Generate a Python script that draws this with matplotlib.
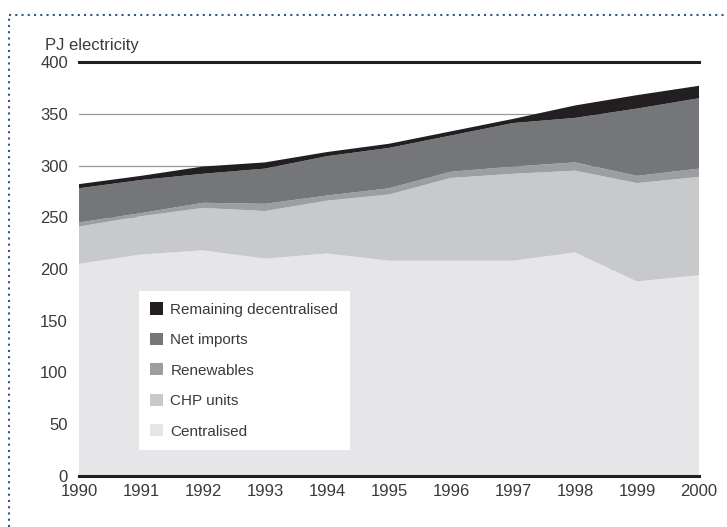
import matplotlib
matplotlib.use("Agg")
import matplotlib.pyplot as plt
from matplotlib.patches import Patch
from matplotlib.lines import Line2D

# values, PJ electricity per year
years = [1990, 1991, 1992, 1993, 1994, 1995, 1996, 1997, 1998, 1999, 2000]
centralised = [205, 214, 218, 210, 215, 208, 208, 208, 216, 188, 194]
chp_units = [36, 37, 41, 46, 51, 64, 80, 84, 79, 95, 95]
renewables = [4, 3, 5, 7, 5, 6, 6, 7, 8, 7, 8]
net_imports = [33, 32, 28, 34, 38, 39, 35, 42, 43, 65, 68]
remaining = [4, 4, 7, 6, 4, 4, 4, 4, 12, 13, 12]

labels = ['Centralised', 'CHP units', 'Renewables', 'Net imports', 'Remaining decentralised']
colors = ['#e6e6e8', '#c8c9cb', '#9d9ea1', '#75767a', '#231f20']
yticks = [0, 50, 100, 150, 200, 250, 300, 350, 400]

plt.rcParams['font.family'] = ['Liberation Sans', 'DejaVu Sans']
text_col = '#3a3a3a'

fig = plt.figure(figsize=(7.27, 5.27), dpi=100)
ax = fig.add_axes([79 / 727, 51 / 527, 620 / 727, 414 / 527])

for y in yticks[1:-1]:
    ax.axhline(y, color='#9a9a9a', lw=0.9, zorder=0)

ax.stackplot(years, centralised, chp_units, renewables, net_imports, remaining,
             colors=colors, zorder=1, lw=0)

ax.axhline(400, color='#231f20', lw=2.2, zorder=3, clip_on=False)
ax.set_xlim(1990, 2000)
ax.set_ylim(0, 400)
ax.set_xticks(years)
ax.set_yticks(yticks)
ax.tick_params(length=0, labelsize=12, labelcolor=text_col, pad=8)
ax.tick_params(axis='x', pad=6)
for s in ['left', 'right', 'top']:
    ax.spines[s].set_visible(False)
ax.spines['bottom'].set_color('#231f20')
ax.spines['bottom'].set_linewidth(2.2)
ax.set_facecolor('none')

fig.text(45 / 727, 1 - 45 / 527, 'PJ electricity', fontsize=12, color=text_col,
         ha='left', va='center')

handles = [Patch(facecolor=c, edgecolor='none') for c in colors][::-1]
leg = ax.legend(handles, labels[::-1], loc='upper left',
                bbox_to_anchor=((139 - 79) / 620, (476 - 291) / 414),
                borderaxespad=0, fontsize=11, frameon=True, fancybox=False,
                framealpha=1, edgecolor='none', facecolor='white',
                handlelength=0.85, handleheight=0.85, handletextpad=0.45,
                labelspacing=1.05, borderpad=0.75)
for t in leg.get_texts():
    t.set_color(text_col)

# dotted blue frame on top and left
fig.add_artist(Line2D([9 / 727, 1], [1 - 15 / 527, 1 - 15 / 527], color='#2f5597',
                      lw=1.5, ls=(0, (1, 2)), transform=fig.transFigure))
fig.add_artist(Line2D([9 / 727, 9 / 727], [0, 1 - 15 / 527], color='#2f5597',
                      lw=1.5, ls=(0, (1, 2)), transform=fig.transFigure))

fig.savefig('out.png', dpi=100)
